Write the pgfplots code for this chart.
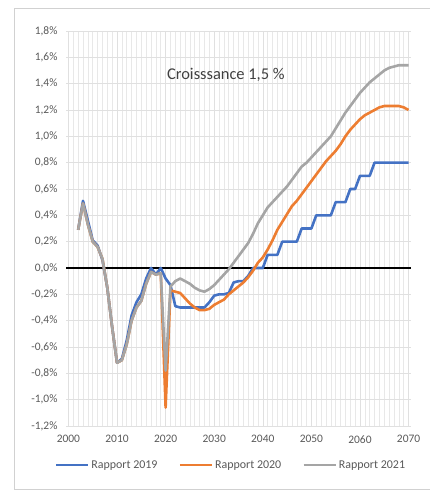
\documentclass[border=0pt]{standalone}
\usepackage{fontspec}
\setmainfont{Carlito}
\usepackage{pgfplots}
\usepackage{pgfplotstable}
\pgfplotsset{compat=1.18}
\definecolor{c19}{HTML}{4472C4}
\definecolor{c20}{HTML}{ED7D31}
\definecolor{c21}{HTML}{A5A5A5}
\definecolor{txt}{HTML}{595959}
\pgfplotstableread{
year r19 r20 r21
2002 0.29 0.29 0.29
2003 0.51 0.49 0.49
2004 0.36 0.33 0.33
2005 0.21 0.20 0.20
2006 0.17 0.16 0.16
2007 0.06 0.07 0.07
2008 -0.15 -0.15 -0.15
2009 -0.45 -0.45 -0.45
2010 -0.72 -0.72 -0.72
2011 -0.69 -0.70 -0.70
2012 -0.55 -0.58 -0.58
2013 -0.36 -0.40 -0.40
2014 -0.26 -0.30 -0.30
2015 -0.20 -0.25 -0.25
2016 -0.08 -0.12 -0.12
2017 0.00 -0.03 -0.03
2018 -0.05 -0.05 -0.05
2019 0.00 -0.04 -0.04
2020 -0.08 -1.06 -0.78
2021 -0.13 -0.17 -0.14
2022 -0.29 -0.18 -0.10
2023 -0.30 -0.19 -0.08
2024 -0.30 -0.23 -0.10
2025 -0.30 -0.27 -0.12
2026 -0.30 -0.30 -0.15
2027 -0.30 -0.32 -0.17
2028 -0.30 -0.32 -0.18
2029 -0.26 -0.31 -0.16
2030 -0.21 -0.28 -0.13
2031 -0.20 -0.26 -0.09
2032 -0.20 -0.24 -0.05
2033 -0.19 -0.20 -0.01
2034 -0.11 -0.17 0.04
2035 -0.10 -0.14 0.09
2036 -0.10 -0.11 0.14
2037 -0.06 -0.07 0.19
2038 0.00 -0.02 0.26
2039 0.00 0.04 0.34
2040 0.00 0.08 0.40
2041 0.10 0.14 0.46
2042 0.10 0.21 0.50
2043 0.10 0.29 0.54
2044 0.20 0.35 0.58
2045 0.20 0.41 0.62
2046 0.20 0.47 0.67
2047 0.20 0.51 0.72
2048 0.30 0.56 0.77
2049 0.30 0.61 0.80
2050 0.30 0.66 0.84
2051 0.40 0.71 0.88
2052 0.40 0.76 0.92
2053 0.40 0.81 0.96
2054 0.40 0.85 1.00
2055 0.50 0.89 1.06
2056 0.50 0.94 1.12
2057 0.50 1.00 1.18
2058 0.60 1.05 1.23
2059 0.60 1.09 1.28
2060 0.70 1.13 1.33
2061 0.70 1.16 1.37
2062 0.70 1.18 1.41
2063 0.80 1.20 1.44
2064 0.80 1.22 1.47
2065 0.80 1.23 1.50
2066 0.80 1.23 1.52
2067 0.80 1.23 1.53
2068 0.80 1.23 1.54
2069 0.80 1.22 1.54
2070 0.80 1.20 1.54
}\data
\begin{document}
\begin{tikzpicture}[x=1bp,y=1bp]
\path[use as bounding box] (0,0) rectangle (429,492);
\draw[color=black!18, line width=0.8bp] (14.5,3) rectangle (435,484);
\begin{axis}[
  at={(66bp,66bp)}, anchor=south west,
  scale only axis, width=345bp, height=395bp,
  xmin=1999.5, xmax=2070.5, ymin=-1.2, ymax=1.8,
  xtick={2000,2010,2020,2030,2040,2050,2060,2070},
  minor x tick num=9,
  ytick={-1.2,-1.0,-0.8,-0.6,-0.4,-0.2,0,0.2,0.4,0.6,0.8,1.0,1.2,1.4,1.6,1.8},
  /pgf/number format/.cd, assume math mode=true, 1000 sep={},
  /pgfplots/.cd,
  yticklabel={\pgfmathprintnumber[fixed,fixed zerofill,precision=1,use comma]{\tick}\%},
  axis line style={draw=none},
  major tick length=0pt, minor tick length=0pt,
  grid=both,
  major grid style={draw=black!12, line width=0.6bp},
  minor grid style={draw=black!9, line width=0.6bp},
  tick label style={font=\fontsize{11.5}{13}\selectfont, text=txt},
  yticklabel style={xshift=-5bp},
  xticklabel style={yshift=-6bp},
  legend style={at={(0.478,-0.099)}, anchor=center, draw=none, fill=none,
    font=\fontsize{12}{14}\selectfont, text=txt,
    /tikz/every even column/.append style={column sep=19bp}},
  legend columns=3,
  legend image code/.code={\draw[#1] (0bp,0bp) -- (32bp,0bp);},
]
\addplot[black, line width=1.3bp, forget plot] coordinates {(1999.5,0) (2070.5,0)};
\addplot[c19, line width=2.6bp, line join=round] table[x=year, y=r19] {\data};
\addlegendentry{Rapport 2019}
\addplot[c20, line width=2.6bp, line join=round] table[x=year, y=r20] {\data};
\addlegendentry{Rapport 2020}
\addplot[c21, line width=2.6bp, line join=round] table[x=year, y=r21] {\data};
\addlegendentry{Rapport 2021}
\node[font=\fontsize{16.5}{18}\selectfont, text=black!75] at (axis cs:2032.4,1.47) {Croisssance 1,5 \%};
\end{axis}
\end{tikzpicture}
\end{document}
